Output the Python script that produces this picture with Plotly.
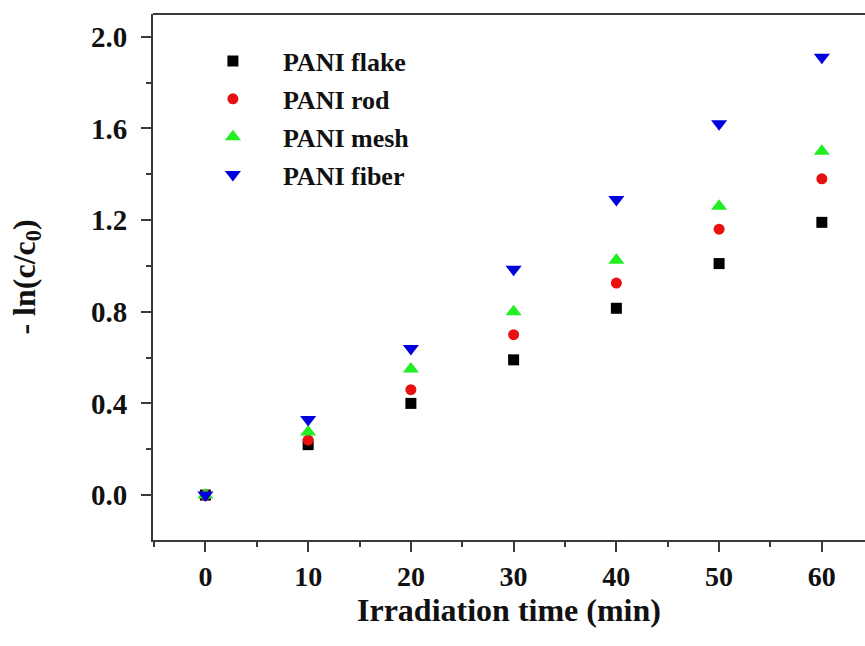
import plotly.graph_objects as go

time_min = [0, 10, 20, 30, 40, 50, 60]
flake = [0.0, 0.22, 0.40, 0.59, 0.815, 1.01, 1.19]
rod = [0.0, 0.24, 0.46, 0.70, 0.925, 1.16, 1.38]
mesh = [0.0, 0.275, 0.55, 0.80, 1.025, 1.26, 1.50]
fiber = [0.0, 0.33, 0.64, 0.985, 1.29, 1.62, 1.91]
x_ticktext = ["0", "10", "20", "30", "40", "50", "60"]
y_tickvals = [0.0, 0.4, 0.8, 1.2, 1.6, 2.0]
y_ticktext = ["0.0", "0.4", "0.8", "1.2", "1.6", "2.0"]

series = [
    ("PANI flake", flake, "square", "#000000", 11),
    ("PANI rod", rod, "circle", "#e81010", 11),
    ("PANI mesh", mesh, "triangle-up", "#22ee22", 14),
    ("PANI fiber", fiber, "triangle-down", "#0000dd", 14),
]

fig = go.Figure()
for i, (name, vals, sym, col, sz) in enumerate(series):
    fig.add_trace(go.Scatter(
        x=time_min, y=vals, mode="markers", name=f"<b>{name}</b>",
        legendgroup=f"g{i}",
        marker=dict(symbol=sym, color=col, size=sz, line=dict(width=0)),
    ))

font_family = "Liberation Serif, Times New Roman, serif"
axis_col = "#3a3a3a"

fig.update_layout(
    width=865, height=646,
    margin=dict(l=153, r=0, t=14, b=106),
    paper_bgcolor="white", plot_bgcolor="white",
    font=dict(family=font_family, color="#111111"),
    showlegend=True,
    legend=dict(
        x=0.042, y=0.955, xanchor="left", yanchor="top",
        bgcolor="rgba(0,0,0,0)", borderwidth=0,
        font=dict(size=26, family=font_family, color="#111111"),
        tracegroupgap=1, itemwidth=90,
    ),
    xaxis=dict(
        range=[-5.1, 64.2], tickvals=time_min,
        ticktext=[f"<b>{t}</b>" for t in x_ticktext],
        showline=True, linecolor=axis_col, linewidth=2,
        ticks="outside", ticklen=10, tickwidth=2, tickcolor=axis_col,
        minor=dict(ticks="outside", ticklen=5, tickwidth=2, tickcolor=axis_col, dtick=5, tick0=5),
        showgrid=False, zeroline=False,
        tickfont=dict(size=28, family=font_family, color="#111111"),
    ),
    yaxis=dict(
        range=[-0.196, 2.099], tickvals=y_tickvals,
        ticktext=[f"<b>{t}</b>" for t in y_ticktext],
        showline=True, linecolor=axis_col, linewidth=2,
        ticks="outside", ticklen=10, tickwidth=2, tickcolor=axis_col,
        minor=dict(ticks="outside", ticklen=5, tickwidth=2, tickcolor=axis_col, dtick=0.4, tick0=0.2),
        showgrid=False, zeroline=False, ticklabelstandoff=8,
        tickfont=dict(size=29, family=font_family, color="#111111"),
        title=dict(text="<b>- ln(c/c<sub>0</sub>)</b>", font=dict(size=32, family=font_family, color="#111111"), standoff=46),
    ),
    annotations=[dict(
        text="<b>Irradiation time (min)</b>", xref="paper", yref="paper",
        x=0.5, y=-0.133, xanchor="center", yanchor="middle", showarrow=False,
        font=dict(size=32, family=font_family, color="#111111"),
    )],
    shapes=[dict(type="line", xref="paper", yref="paper", x0=0, x1=1, y0=1, y1=1,
                 line=dict(color=axis_col, width=2))],
)

fig.write_html("out.html")
